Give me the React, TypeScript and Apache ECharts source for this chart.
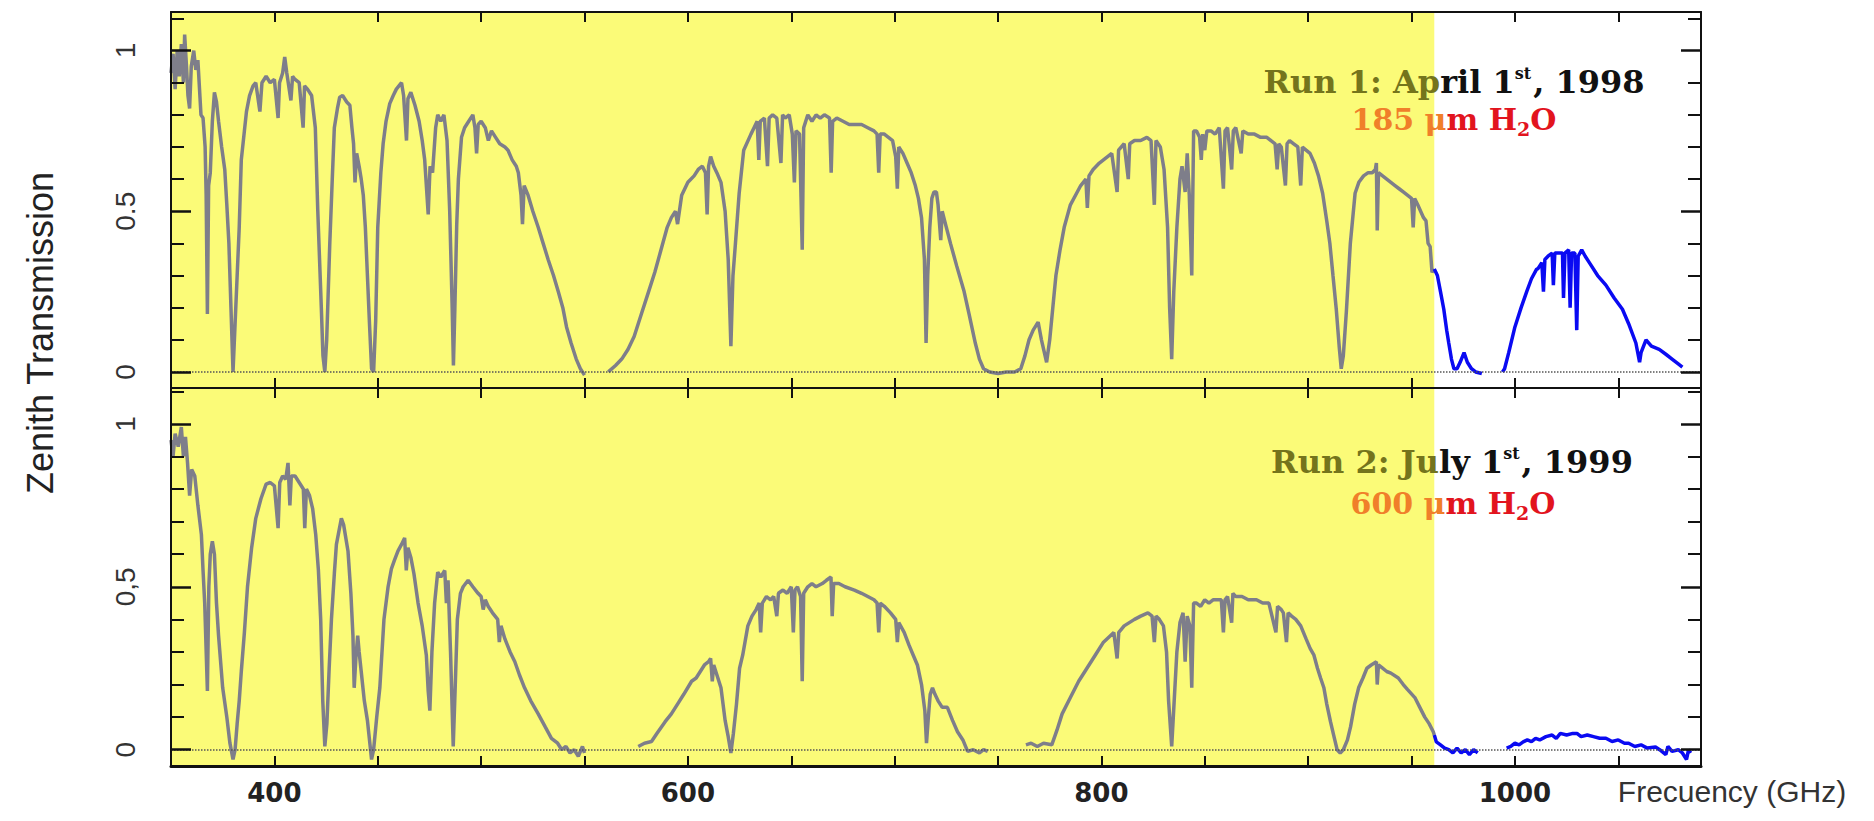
import React, { useEffect, useRef } from "react";
import * as echarts from "echarts";

// ---------- data ----------
const X_MIN = 350;
const X_MAX = 1090;
const YELLOW_END = 961; // GHz, end of the shaded (yellow) band

const xTickValues = [400, 450, 500, 550, 600, 650, 700, 750, 800, 850, 900, 950, 1000, 1050];
const xLabelValues = [400, 600, 800, 1000];
const yMajorTicks = [0, 0.5, 1];
const yMinorTicks = [0.1, 0.2, 0.3, 0.4, 0.6, 0.7, 0.8, 0.9, 1.1];

// Run 1: April 1st 1998, 185 um H2O  -> [frequency GHz, zenith transmission]
const run1Spectrum: [number, number | null][] = [
  [350, 0.93], [351, 0.99], [352, 0.88], [353, 1.0], [354, 0.92], [355, 1.02], [356, 0.9], [356.6, 1.05],
  [357.5, 0.95], [358.2, 0.86], [359, 0.82], [359.8, 0.95], [361, 1.0], [362, 0.94], [363, 0.97], [364.5, 0.8],
  [365.5, 0.79], [366.5, 0.7], [367, 0.55], [367.6, 0.18], [368.2, 0.58], [369, 0.62], [370, 0.78], [371, 0.87],
  [372, 0.84], [373, 0.78], [374.5, 0.7], [376, 0.63], [377, 0.52], [378, 0.4], [379, 0.2], [380, 0.0],
  [381, 0.15], [382, 0.3], [383, 0.45], [384, 0.66], [385.5, 0.75], [386.5, 0.81], [388, 0.86], [389.7, 0.89],
  [391, 0.9], [393, 0.81], [394, 0.9], [396, 0.92], [398, 0.9], [400, 0.91], [401.8, 0.79], [402.5, 0.9],
  [404, 0.93], [405, 0.98], [406, 0.93], [408, 0.845], [408.8, 0.92], [410, 0.91], [412, 0.9], [413.9, 0.76],
  [414.6, 0.89], [416, 0.88], [418, 0.86], [419.8, 0.76], [421, 0.5], [422.7, 0.2], [423.5, 0.05], [424.4, 0.0],
  [425.3, 0.1], [426.8, 0.4], [428, 0.6], [429, 0.76], [430.5, 0.82], [431.6, 0.855], [433, 0.86], [435, 0.84],
  [436.5, 0.83], [437.5, 0.76], [438.3, 0.71], [439, 0.59], [439.8, 0.68], [441, 0.64], [442, 0.6], [443, 0.55],
  [444, 0.45], [445, 0.3], [446, 0.15], [447, 0.01], [448, 0.0], [449, 0.16], [450, 0.45], [451.5, 0.62],
  [452.6, 0.71], [454, 0.78], [455.8, 0.835], [457.5, 0.86], [459, 0.88], [461.5, 0.9], [462.5, 0.86], [463.9, 0.72],
  [464.6, 0.85], [466, 0.87], [468, 0.83], [470, 0.78], [471.5, 0.72], [472.7, 0.66], [474.4, 0.49], [475.3, 0.64],
  [476.5, 0.62], [478, 0.76], [479, 0.8], [480.5, 0.78], [482, 0.8], [483.5, 0.72], [484.8, 0.5], [486, 0.2],
  [486.6, 0.02], [487.3, 0.2], [488.2, 0.46], [489, 0.6], [490.5, 0.73], [492, 0.76], [494, 0.78], [496, 0.8],
  [497, 0.76], [497.8, 0.68], [498.6, 0.77], [500, 0.78], [502, 0.76], [503.5, 0.72], [505, 0.75], [507, 0.73],
  [509, 0.71], [511.5, 0.7], [513, 0.69], [515, 0.66], [517, 0.64], [518, 0.62], [519.3, 0.55], [520, 0.46],
  [520.8, 0.58], [522.7, 0.55], [525, 0.5], [527.6, 0.45], [530, 0.4], [532.4, 0.35], [535, 0.3], [537.3, 0.25],
  [539.5, 0.2], [541.3, 0.14], [543.5, 0.09], [546, 0.04], [548, 0.01], [550, -0.01], [551, null],
  [561.5, 0.0], [565, 0.02], [568, 0.04], [571, 0.07], [574, 0.11], [577.5, 0.18], [581, 0.25], [584, 0.31],
  [587, 0.38], [590, 0.45], [592, 0.48], [594, 0.5], [595, 0.46], [597, 0.55], [600, 0.59], [603, 0.61],
  [605, 0.63], [607, 0.64], [608.5, 0.62], [609.3, 0.49], [610, 0.64], [611, 0.67], [612.5, 0.64], [614, 0.62],
  [616, 0.59], [618, 0.5], [619.5, 0.35], [620.8, 0.08], [621.8, 0.3], [623, 0.4], [624.8, 0.556], [627, 0.69],
  [630.5, 0.74], [632, 0.76], [633.5, 0.78], [634.3, 0.66], [635, 0.78], [637, 0.79], [638.5, 0.64], [639.3, 0.79],
  [641, 0.8], [643, 0.79], [645, 0.65], [645.8, 0.8], [647, 0.79], [649, 0.8], [650.5, 0.74], [651.5, 0.59],
  [652.3, 0.75], [654, 0.74], [655.3, 0.38], [656, 0.76], [658, 0.8], [660, 0.78], [662, 0.8], [664, 0.79],
  [666, 0.8], [668.5, 0.79], [669.3, 0.62], [670, 0.78], [672, 0.79], [675, 0.78], [678, 0.77], [681, 0.77],
  [684, 0.77], [687, 0.76], [690, 0.75], [691.5, 0.74], [692.3, 0.62], [693, 0.74], [695, 0.74], [697, 0.73],
  [699, 0.72], [700.5, 0.67], [701.3, 0.57], [702, 0.7], [704, 0.68], [706, 0.65], [708, 0.62], [710, 0.58],
  [711.5, 0.54], [713, 0.48], [714.4, 0.35], [715.2, 0.09], [716, 0.3], [717, 0.45], [718, 0.54], [719, 0.56],
  [720.2, 0.56], [721, 0.52], [722.3, 0.41], [723, 0.5], [725, 0.45], [727, 0.4], [730, 0.33], [733.6, 0.25],
  [736, 0.18], [739, 0.09], [741, 0.04], [743, 0.01], [746, 0.0], [750, -0.005], [754, 0.0], [758, 0.0],
  [761, 0.01], [763, 0.05], [765, 0.1], [767, 0.13], [769.4, 0.155], [771, 0.1], [773.5, 0.03], [775, 0.1],
  [776.5, 0.2], [778, 0.3], [780, 0.38], [782, 0.45], [785, 0.52], [788, 0.556], [790, 0.58], [792.5, 0.6],
  [793.2, 0.51], [794, 0.61], [796, 0.63], [799, 0.65], [801, 0.66], [803, 0.67], [805, 0.68], [807.6, 0.56],
  [808.3, 0.69], [811, 0.71], [813, 0.6], [813.7, 0.71], [816, 0.72], [819, 0.72], [822, 0.73], [824, 0.72],
  [825.6, 0.52], [826.4, 0.72], [828.5, 0.7], [830.3, 0.63], [832, 0.45], [833, 0.2], [834, 0.04], [835, 0.25],
  [836.5, 0.45], [838, 0.6], [839, 0.64], [840.5, 0.56], [841.5, 0.68], [842.5, 0.55], [843.7, 0.3], [844.6, 0.75],
  [846, 0.75], [847.5, 0.73], [848.3, 0.66], [849, 0.74], [850, 0.69], [851, 0.75], [853, 0.75], [855, 0.74],
  [857, 0.76], [859, 0.57], [859.8, 0.75], [861, 0.76], [863, 0.63], [863.8, 0.75], [865, 0.76], [867.6, 0.68],
  [868.4, 0.75], [871, 0.74], [874, 0.74], [877, 0.73], [880, 0.73], [882, 0.72], [884, 0.71], [885, 0.63],
  [885.8, 0.71], [887, 0.7], [889, 0.58], [889.8, 0.71], [891, 0.72], [893, 0.71], [895, 0.7], [896.4, 0.58],
  [897.2, 0.7], [899, 0.69], [900.9, 0.68], [903, 0.65], [905, 0.61], [907, 0.556], [909, 0.47], [910.5, 0.4],
  [912, 0.3], [913.6, 0.195], [915, 0.08], [916, 0.01], [917, 0.05], [918.5, 0.19], [920.4, 0.4], [922.7, 0.556],
  [924.5, 0.59], [926.8, 0.61], [929, 0.62], [931, 0.62], [932.5, 0.63], [933, 0.65], [933.4, 0.44], [934, 0.62],
  [936, 0.61], [938, 0.6], [940, 0.59], [942, 0.58], [944, 0.57], [946, 0.56], [948, 0.55], [950, 0.54],
  [950.8, 0.45], [951.5, 0.54], [953, 0.52], [955.8, 0.48], [957, 0.47], [958, 0.4], [959, 0.39], [959.9, 0.31],
  [961, 0.32], [962.5, 0.3], [964, 0.25], [965.6, 0.195], [967, 0.13], [968, 0.09], [969.3, 0.04], [970.5, 0.01],
  [972, 0.01], [973.5, 0.03], [975.4, 0.06], [977, 0.03], [979, 0.01], [981, 0.0], [984, -0.005], [985, null],
  [994, 0.0], [995, 0.01], [997, 0.06], [1000, 0.14], [1003, 0.2], [1005.7, 0.25], [1008, 0.29], [1010.5, 0.32],
  [1011, 0.32], [1013, 0.34], [1013.8, 0.25], [1014.5, 0.35], [1016, 0.36], [1018, 0.37], [1018.6, 0.27], [1019.3, 0.37],
  [1021, 0.37], [1023, 0.37], [1023.5, 0.23], [1024.2, 0.37], [1026, 0.38], [1026.7, 0.2], [1027.4, 0.37], [1029, 0.37],
  [1029.9, 0.13], [1030.6, 0.36], [1032.3, 0.38], [1034, 0.36], [1036, 0.34], [1040, 0.3], [1044, 0.27], [1048, 0.23],
  [1052, 0.195], [1055, 0.15], [1058.5, 0.09], [1060.3, 0.03], [1061, 0.06], [1063.4, 0.1], [1066, 0.08], [1069.8, 0.07],
  [1073, 0.055], [1076, 0.04], [1079, 0.025], [1081, 0.015],
];

// Run 2: July 1st 1999, 600 um H2O
const run2Spectrum: [number, number | null][] = [
  [350, 0.95], [351, 0.9], [352, 0.97], [353.5, 0.93], [355, 0.99], [356, 0.9], [357, 0.96], [358, 0.88],
  [359, 0.78], [360, 0.86], [361.5, 0.84], [363, 0.75], [364.7, 0.66], [365.5, 0.55], [366.3, 0.45], [367.6, 0.18],
  [368.3, 0.5], [369, 0.6], [370, 0.64], [371, 0.6], [372, 0.45], [373, 0.35], [375, 0.19], [377, 0.1],
  [378.5, 0.02], [380, -0.03], [381, 0.0], [382, 0.08], [383, 0.15], [384, 0.24], [385.5, 0.36], [387, 0.5],
  [389, 0.62], [391, 0.71], [393.5, 0.77], [396, 0.815], [398, 0.82], [400, 0.81], [401.8, 0.68], [402.6, 0.82],
  [404, 0.84], [405.5, 0.83], [406.6, 0.88], [407.5, 0.75], [408.2, 0.84], [410, 0.84], [412, 0.82], [414, 0.8],
  [414.7, 0.68], [415.5, 0.8], [417, 0.78], [418.5, 0.74], [420, 0.66], [421.3, 0.55], [422.4, 0.4], [423.4, 0.15],
  [424.4, 0.01], [425.4, 0.08], [426.5, 0.25], [427.6, 0.4], [429, 0.54], [430, 0.63], [431.2, 0.67], [432.4, 0.71],
  [433.5, 0.69], [435.6, 0.61], [437, 0.48], [438, 0.35], [438.6, 0.19], [439.4, 0.28], [440.3, 0.35], [441, 0.3],
  [442, 0.24], [443.5, 0.15], [445, 0.09], [446, 0.03], [447, -0.03], [448, 0.0], [449.5, 0.1], [451, 0.19],
  [453, 0.4], [455, 0.5], [456.6, 0.555], [458, 0.58], [459.8, 0.61], [461.5, 0.63], [463, 0.65], [463.8, 0.55],
  [464.6, 0.62], [466, 0.59], [467.5, 0.54], [469.5, 0.45], [471.5, 0.38], [473.5, 0.29], [474.4, 0.18], [475.2, 0.12],
  [476.2, 0.3], [477.5, 0.45], [479, 0.545], [480.5, 0.53], [482.4, 0.55], [483.2, 0.45], [484, 0.52], [485.2, 0.3],
  [486.5, 0.01], [487.5, 0.2], [488.5, 0.4], [490, 0.48], [491.3, 0.5], [493.7, 0.52], [496, 0.5], [498.5, 0.48],
  [500, 0.47], [501, 0.43], [502, 0.46], [503.4, 0.44], [505.5, 0.42], [508, 0.4], [508.8, 0.33], [509.6, 0.38],
  [511.5, 0.34], [514, 0.3], [516.3, 0.27], [518.5, 0.23], [521, 0.19], [524, 0.15], [527.6, 0.11], [531, 0.07],
  [534, 0.035], [537, 0.02], [539, 0.0], [541, 0.01], [543, -0.01], [545, 0.0], [547, -0.02], [549, 0.01],
  [550, -0.01], [551, null],
  [576, 0.01], [579, 0.02], [582.4, 0.025], [585, 0.05], [589, 0.086], [592, 0.11], [595, 0.14], [598, 0.17],
  [601.8, 0.21], [604, 0.22], [606, 0.24], [608, 0.26], [610, 0.27], [611, 0.28], [611.8, 0.21], [612.5, 0.26],
  [614, 0.23], [616, 0.19], [618, 0.09], [619.5, 0.04], [620.8, -0.01], [622, 0.05], [623.5, 0.14], [625, 0.25],
  [626.5, 0.29], [629, 0.38], [631, 0.41], [633, 0.43], [634.5, 0.45], [635.2, 0.36], [636, 0.45], [638, 0.47],
  [640, 0.46], [641.5, 0.47], [643, 0.41], [643.8, 0.48], [646, 0.49], [648, 0.48], [650, 0.5], [651, 0.36],
  [651.8, 0.49], [653, 0.5], [654.5, 0.47], [655.3, 0.21], [656, 0.48], [658, 0.5], [660, 0.51], [662, 0.5],
  [665, 0.51], [667, 0.52], [669.2, 0.53], [669.8, 0.41], [670.5, 0.51], [673, 0.51], [676, 0.5], [680.5, 0.49],
  [684, 0.48], [687, 0.47], [690, 0.46], [691.5, 0.45], [692.3, 0.36], [693, 0.45], [695, 0.44], [698, 0.42],
  [700.5, 0.4], [701.3, 0.33], [702, 0.39], [704.6, 0.36], [707, 0.32], [709, 0.29], [711, 0.26], [713, 0.2],
  [714.6, 0.12], [715.4, 0.02], [716.3, 0.1], [717.2, 0.17], [718.3, 0.19], [719.5, 0.17], [721, 0.15], [723, 0.13],
  [725.5, 0.13], [728, 0.09], [730.4, 0.055], [733, 0.03], [735.3, -0.005], [738, 0.0], [741, -0.01], [743, 0.0],
  [745, -0.005], [746, null],
  [763.5, 0.015], [766, 0.02], [769, 0.01], [772, 0.02], [776, 0.015], [778.5, 0.06], [781, 0.11], [785, 0.16],
  [789, 0.21], [793, 0.25], [797, 0.29], [801, 0.33], [806, 0.36], [807.6, 0.28], [808.4, 0.36], [811, 0.38],
  [816, 0.4], [819, 0.41], [822.5, 0.42], [824.5, 0.41], [825.6, 0.33], [826.4, 0.41], [828, 0.4], [830, 0.38],
  [831.5, 0.3], [832.5, 0.15], [834, 0.01], [835.2, 0.15], [836.5, 0.3], [838, 0.39], [839.5, 0.42], [840.5, 0.27],
  [841.5, 0.41], [842.8, 0.38], [843.7, 0.19], [844.6, 0.45], [846, 0.45], [848, 0.44], [850, 0.46], [852, 0.45],
  [854, 0.46], [856, 0.46], [858, 0.46], [859, 0.36], [859.8, 0.46], [861, 0.47], [863, 0.39], [863.6, 0.48],
  [865, 0.47], [868, 0.47], [871, 0.46], [875, 0.46], [878, 0.45], [881, 0.45], [884.4, 0.36], [885.2, 0.44],
  [887, 0.43], [888, 0.42], [889.5, 0.33], [890.3, 0.42], [892, 0.41], [894, 0.4], [896.4, 0.38], [899, 0.34],
  [901, 0.31], [902.8, 0.29], [904.5, 0.25], [906, 0.22], [907.6, 0.19], [909, 0.14], [910.8, 0.086], [912.5, 0.04],
  [914, 0.0], [915.5, -0.01], [917, 0.0], [919, 0.03], [920.5, 0.07], [922.5, 0.14], [924.4, 0.19], [926.5, 0.22],
  [928.4, 0.25], [930.5, 0.26], [933, 0.27], [933.4, 0.2], [934, 0.26], [936, 0.25], [938, 0.24], [940, 0.235],
  [943.6, 0.22], [946, 0.2], [948, 0.185], [951.6, 0.16], [954, 0.13], [956.4, 0.1], [958.5, 0.08], [960.5, 0.055],
  [961, 0.045], [962, 0.024], [964, 0.015], [966, 0.005], [968, 0.0], [970, -0.01], [972, 0.005], [974, -0.01],
  [976, 0.0], [978, -0.015], [980, 0.0], [982, -0.01], [983, null],
  [996, 0.005], [998, 0.01], [1000, 0.02], [1002, 0.015], [1004, 0.024], [1006, 0.03], [1008, 0.025], [1010, 0.035],
  [1012, 0.03], [1015, 0.04], [1018, 0.045], [1020, 0.035], [1022, 0.05], [1025, 0.045], [1028, 0.05], [1030, 0.05],
  [1032, 0.04], [1035, 0.045], [1038, 0.04], [1041, 0.035], [1044, 0.035], [1047, 0.025], [1050, 0.03], [1053, 0.02],
  [1055, 0.02], [1058, 0.01], [1061, 0.015], [1064, 0.005], [1068, 0.008], [1070, 0.0], [1073, -0.015], [1074, 0.01],
  [1076, -0.005], [1079, 0.0], [1081, -0.01], [1083, -0.03], [1084, 0.0], [1085, -0.01],
];

// ---------- styling ----------
const GRAY = "#7e7e8a";
const BLUE = "#0a0af2";
const YELLOW = "#fbfb78";
const OLIVE = "#74741c";
const INK = "#111111";
const ORANGE = "#f07f2a";
const RED = "#e2141e";

const toSeries = (pts: [number, number | null][], lo: number, hi: number) =>
  pts.filter(([f]) => f >= lo && f <= hi).map(([f, v]) => [f, v === null ? "-" : v]);

const annoFont = "'DejaVu Serif', 'Liberation Serif', serif";

const richStyles = {
  ol: { fill: OLIVE, fontSize: 32, fontWeight: "bold", fontFamily: annoFont, lineHeight: 42, verticalAlign: "middle" },
  bk: { fill: INK, fontSize: 32, fontWeight: "bold", fontFamily: annoFont, lineHeight: 42, verticalAlign: "middle" },
  bks: { fill: INK, fontSize: 16, fontWeight: "bold", fontFamily: annoFont, lineHeight: 42, verticalAlign: "top", padding: [4, 2, 0, 0] },
  or: { fill: ORANGE, fontSize: 30, fontWeight: "bold", fontFamily: annoFont, lineHeight: 42, verticalAlign: "middle" },
  rd: { fill: RED, fontSize: 30, fontWeight: "bold", fontFamily: annoFont, lineHeight: 42, verticalAlign: "middle" },
  rds: { fill: RED, fontSize: 19, fontWeight: "bold", fontFamily: annoFont, lineHeight: 42, verticalAlign: "bottom", padding: [0, 0, 2, 0] },
};

function makeXAxis(gridIndex: number, position: "top" | "bottom", showLabels: boolean, lineWidth: number) {
  return {
    type: "value",
    gridIndex,
    position,
    min: X_MIN,
    max: X_MAX,
    z: 5,
    axisLine: { show: true, onZero: false, lineStyle: { color: "#111", width: lineWidth } },
    axisTick: { show: true, inside: true, length: 10, customValues: xTickValues, lineStyle: { color: "#111", width: 2 } },
    axisLabel: {
      show: showLabels,
      customValues: xLabelValues,
      margin: 14,
      color: "#222",
      fontSize: 26,
      fontWeight: "bold",
      fontFamily: "'DejaVu Sans', sans-serif",
      formatter: (v: number) => String(v),
    },
    splitLine: { show: false },
  };
}

function makeYAxis(
  gridIndex: number,
  position: "left" | "right",
  major: boolean,
  ymin: number,
  ymax: number,
  halfLabel: string
) {
  return {
    type: "value",
    gridIndex,
    position,
    min: ymin,
    max: ymax,
    z: 5,
    axisLine: { show: major, onZero: false, lineStyle: { color: "#111", width: 2 } },
    axisTick: {
      show: true,
      inside: true,
      length: major ? 20 : 13,
      customValues: major ? yMajorTicks : yMinorTicks,
      lineStyle: { color: "#111", width: major ? 2.5 : 2 },
    },
    axisLabel: {
      show: major && position === "left",
      customValues: yMajorTicks,
      rotate: 90,
      margin: 32,
      color: "#333",
      fontSize: 28,
      fontFamily: "'Liberation Sans', Arial, sans-serif",
      formatter: (v: number) => (v === 0 ? "0" : v === 1 ? "1" : halfLabel),
    },
    splitLine: { show: false },
  };
}

function bandSeries(xi: number, yi: number) {
  return {
    type: "line",
    xAxisIndex: xi,
    yAxisIndex: yi,
    data: [],
    z: 1,
    silent: true,
    markArea: {
      silent: true,
      itemStyle: { color: YELLOW },
      data: [[{ xAxis: X_MIN }, { xAxis: YELLOW_END }]],
    },
    markLine: {
      silent: true,
      symbol: ["none", "none"],
      label: { show: false },
      lineStyle: { type: "dotted", color: "#555", width: 1.5 },
      data: [{ yAxis: 0 }],
    },
  };
}

function lineSeries(name: string, xi: number, yi: number, data: any[], color: string) {
  return {
    name,
    type: "line",
    xAxisIndex: xi,
    yAxisIndex: yi,
    data,
    z: 3,
    showSymbol: false,
    symbol: "none",
    connectNulls: false,
    lineStyle: { color, width: 3.5 },
    itemStyle: { color },
  };
}

export default function App() {
  const ref = useRef<HTMLDivElement>(null);

  useEffect(() => {
    if (!ref.current) return;
    const chart = echarts.init(ref.current, undefined, { renderer: "svg" });

    const top = { ymin: -0.05, ymax: 1.12 };
    const bot = { ymin: -0.05, ymax: 1.11 };

    chart.setOption({
      animation: false,
      backgroundColor: "#ffffff",
      grid: [
        { left: 171, top: 12, width: 1530, height: 376 },
        { left: 171, top: 388, width: 1530, height: 378 },
      ],
      xAxis: [
        makeXAxis(0, "bottom", false, 2),
        makeXAxis(0, "top", false, 2),
        makeXAxis(1, "bottom", true, 3),
        makeXAxis(1, "top", false, 2),
      ],
      yAxis: [
        makeYAxis(0, "left", true, top.ymin, top.ymax, "0.5"),
        makeYAxis(0, "left", false, top.ymin, top.ymax, "0.5"),
        makeYAxis(0, "right", true, top.ymin, top.ymax, "0.5"),
        makeYAxis(0, "right", false, top.ymin, top.ymax, "0.5"),
        makeYAxis(1, "left", true, bot.ymin, bot.ymax, "0,5"),
        makeYAxis(1, "left", false, bot.ymin, bot.ymax, "0,5"),
        makeYAxis(1, "right", true, bot.ymin, bot.ymax, "0,5"),
        makeYAxis(1, "right", false, bot.ymin, bot.ymax, "0,5"),
      ],
      series: [
        bandSeries(0, 0),
        bandSeries(2, 4),
        lineSeries("Run 1 (shaded)", 0, 0, toSeries(run1Spectrum, X_MIN, YELLOW_END), GRAY),
        lineSeries("Run 1", 0, 0, toSeries(run1Spectrum, YELLOW_END, X_MAX), BLUE),
        lineSeries("Run 2 (shaded)", 2, 4, toSeries(run2Spectrum, X_MIN, YELLOW_END), GRAY),
        lineSeries("Run 2", 2, 4, toSeries(run2Spectrum, YELLOW_END, X_MAX), BLUE),
      ],
      graphic: [
        {
          type: "text",
          x: 40,
          y: 333,
          rotation: Math.PI / 2,
          z: 10,
          style: {
            text: "Zenith Transmission",
            fill: "#222",
            fontSize: 36,
            fontFamily: "'Liberation Sans', Arial, sans-serif",
            align: "center",
            verticalAlign: "middle",
          },
        },
        {
          type: "text",
          x: 1732,
          y: 791,
          z: 10,
          style: {
            text: "Frecuency (GHz)",
            fill: "#333",
            fontSize: 30,
            fontFamily: "'Liberation Sans', Arial, sans-serif",
            align: "center",
            verticalAlign: "middle",
          },
        },
        {
          type: "text",
          x: 1454,
          y: 82,
          z: 10,
          style: {
            text: "{ol|Run 1: Ap}{bk|ril 1}{bks|st}{bk|, 1998}",
            rich: richStyles,
            align: "center",
            verticalAlign: "middle",
          },
        },
        {
          type: "text",
          x: 1454,
          y: 119,
          z: 10,
          style: {
            text: "{or|185 μ}{rd|m H}{rds|2}{rd|O}",
            rich: richStyles,
            align: "center",
            verticalAlign: "middle",
          },
        },
        {
          type: "text",
          x: 1452,
          y: 462,
          z: 10,
          style: {
            text: "{ol|Run 2: Ju}{bk|ly 1}{bks|st}{bk|, 1999}",
            rich: richStyles,
            align: "center",
            verticalAlign: "middle",
          },
        },
        {
          type: "text",
          x: 1453,
          y: 503,
          z: 10,
          style: {
            text: "{or|600 μ}{rd|m H}{rds|2}{rd|O}",
            rich: richStyles,
            align: "center",
            verticalAlign: "middle",
          },
        },
      ],
    });

    return () => chart.dispose();
  }, []);

  return (
    <div
      ref={ref}
      style={{ position: "fixed", left: 0, top: 0, width: 1874, height: 821, background: "#fff" }}
    />
  );
}
